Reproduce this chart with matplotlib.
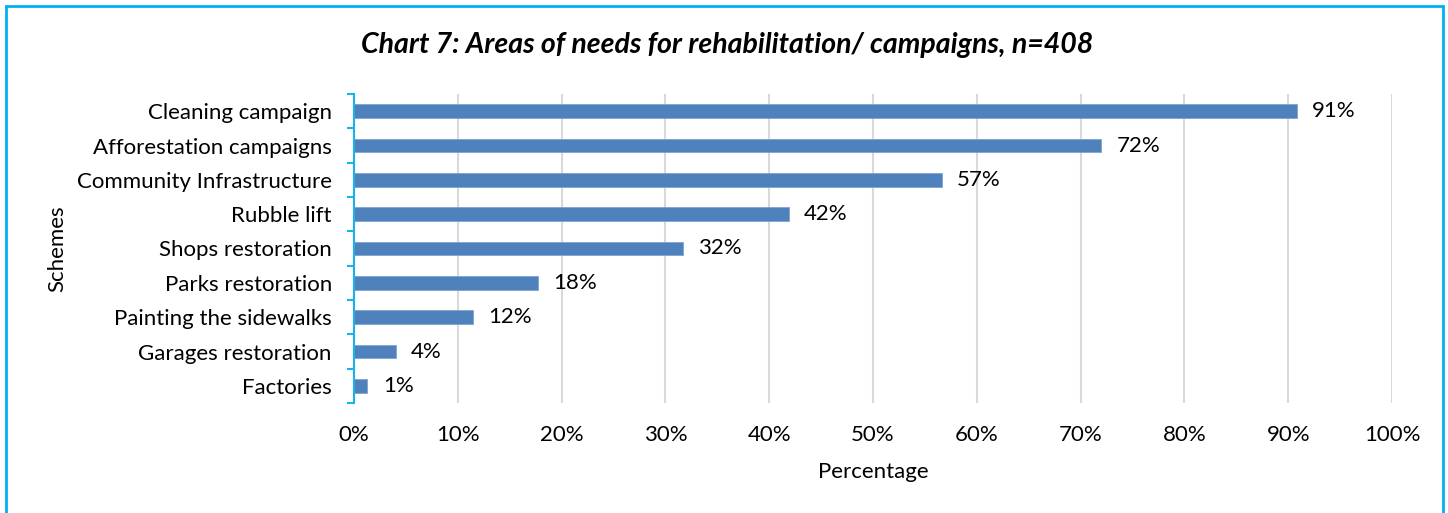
import matplotlib.pyplot as plt
from matplotlib.patches import Rectangle
from matplotlib.ticker import FixedLocator, PercentFormatter
import numpy as np

plt.rcParams["font.family"] = ["Lato", "DejaVu Sans"]

# bottom-to-top order, as drawn by barh
schemes = [
    "Factories",
    "Garages restoration",
    "Painting the sidewalks",
    "Parks restoration",
    "Shops restoration",
    "Rubble lift",
    "Community Infrastructure",
    "Afforestation campaigns",
    "Cleaning campaign",
]
shares = [0.013, 0.040, 0.115, 0.177, 0.317, 0.419, 0.566, 0.720, 0.908]

BAR_COLOR = "#4F81BD"
AXIS_BLUE = "#1AB2EC"
GRID_GRAY = "#D9D9D9"
FS = 16

fig = plt.figure(figsize=(14.48, 5.13), dpi=100)
fig.patches.append(Rectangle((6 / 1448, -0.05), 1437 / 1448, 1.05 - 6 / 513,
                             transform=fig.transFigure, fill=False,
                             edgecolor="#00B0F0", linewidth=2))

ax = fig.add_axes([354 / 1448, 1 - 403 / 513, 1038 / 1448, 309 / 513])
y = np.arange(len(schemes))
ax.barh(y, shares, height=0.4, color=BAR_COLOR, edgecolor="#7FA3D1", linewidth=0.6, zorder=3)

for yi, v in zip(y, shares):
    ax.annotate(f"{v:.0%}", (v, yi), xytext=(11, 0), textcoords="offset points",
                va="center", ha="left", fontsize=FS, color="#000000")

ax.set_xlim(0, 1)
ax.set_ylim(-0.5, len(schemes) - 0.5)
ax.set_xticks(np.arange(0, 1.01, 0.1))
ax.xaxis.set_major_formatter(PercentFormatter(1.0, decimals=0))
ax.set_yticks(y)
ax.set_yticklabels(schemes)
ax.yaxis.set_minor_locator(FixedLocator(np.arange(-0.5, len(schemes), 1.0)))

ax.tick_params(axis="x", length=0, pad=16, labelsize=FS)
ax.tick_params(axis="y", which="major", length=0, pad=16, labelsize=FS)
ax.tick_params(axis="y", which="minor", length=5, width=1.5, color=AXIS_BLUE, direction="out")

ax.grid(axis="x", color=GRID_GRAY, linewidth=1.5, zorder=0)
for side in ["top", "right", "bottom"]:
    ax.spines[side].set_visible(False)
ax.spines["left"].set_color(AXIS_BLUE)
ax.spines["left"].set_linewidth(1.5)
ax.spines["left"].set_zorder(4)

ax.set_xlabel("Percentage", fontsize=FS, labelpad=12)
ax.set_ylabel("Schemes", fontsize=FS, labelpad=7)
fig.text(727 / 1448, 1 - 45 / 513,
         "Chart 7: Areas of needs for rehabilitation/ campaigns, n=408",
         ha="center", va="center", fontsize=20.5, fontweight="bold", fontstyle="italic")

fig.savefig("out.png", dpi=100)
